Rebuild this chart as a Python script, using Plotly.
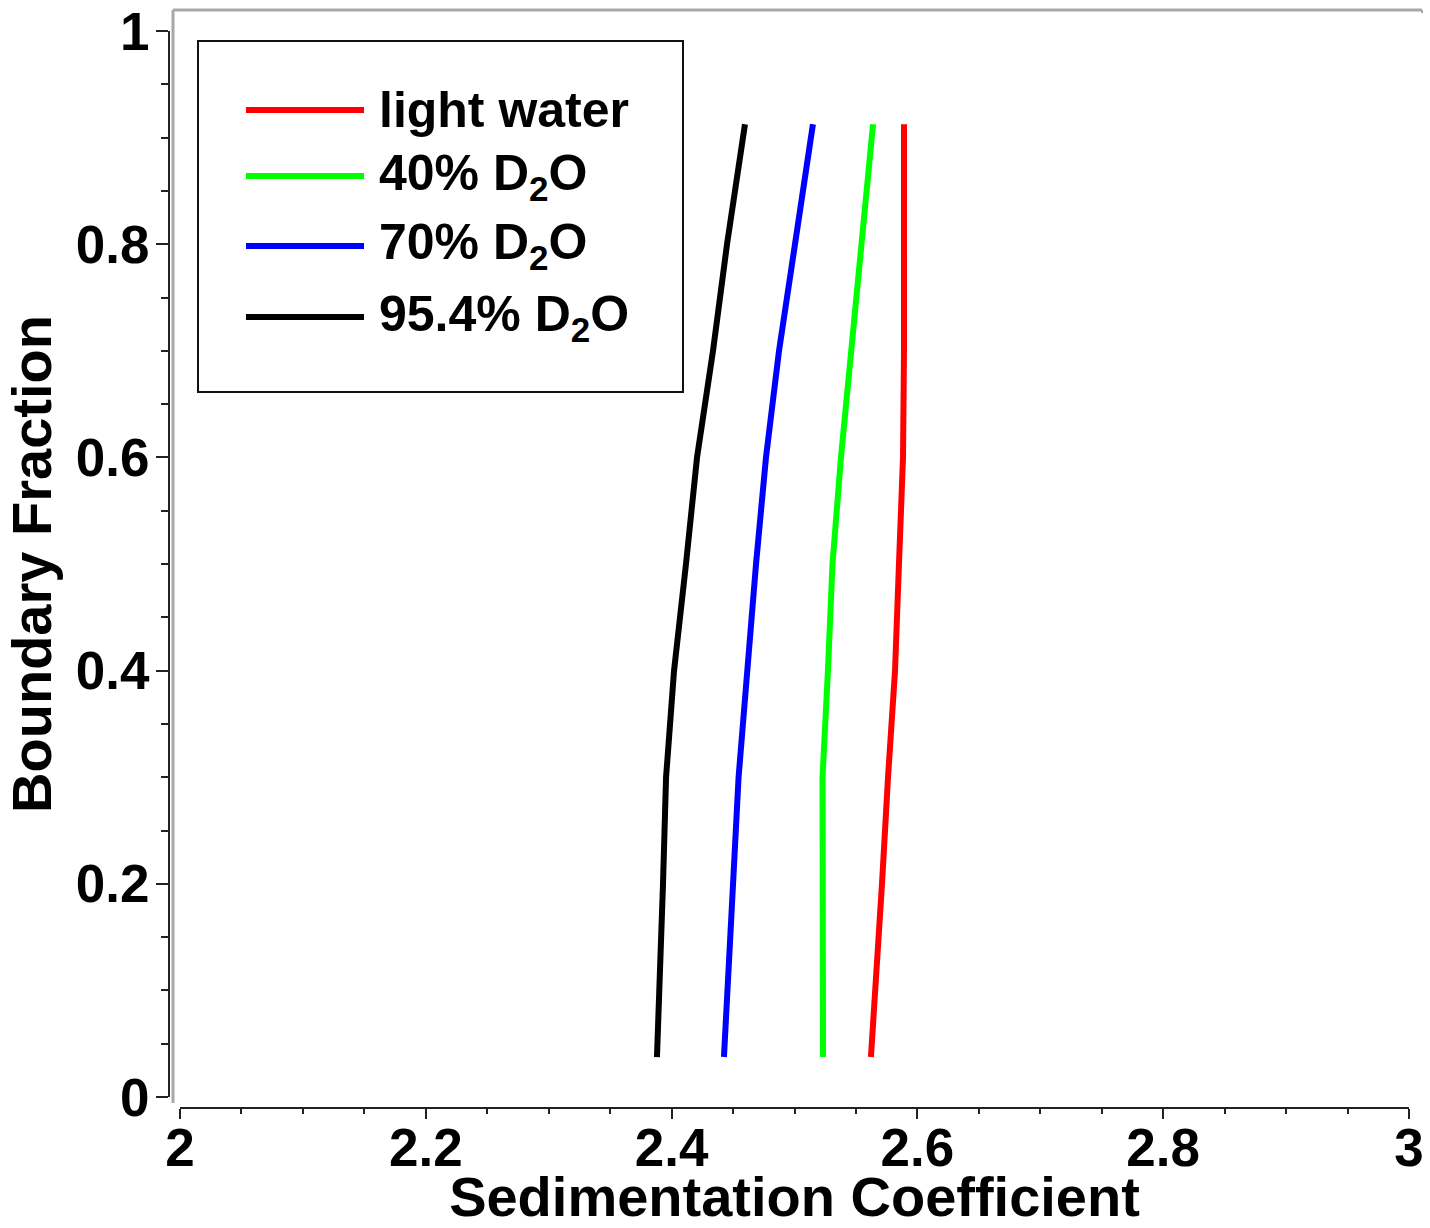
import plotly.graph_objects as go

# Boundary fractions shared by all four distributions
boundary_fraction = [0.0375, 0.1, 0.2, 0.3, 0.4, 0.5, 0.6, 0.7, 0.8, 0.9125]

# Sedimentation coefficients at each boundary fraction
s_light_water = [2.5622, 2.5659, 2.5712, 2.5761, 2.5818, 2.5850, 2.5883, 2.5891, 2.5891, 2.5891]
s_d2o_40 = [2.5232, 2.5232, 2.5228, 2.5228, 2.5272, 2.5309, 2.5378, 2.5460, 2.5541, 2.5639]
s_d2o_70 = [2.4426, 2.4451, 2.4500, 2.4545, 2.4614, 2.4687, 2.4768, 2.4874, 2.5004, 2.5150]
s_d2o_954 = [2.3881, 2.3902, 2.3930, 2.3955, 2.4020, 2.4117, 2.4207, 2.4337, 2.4451, 2.4597]

series_names = ["light water", "40% D<sub>2</sub>O", "70% D<sub>2</sub>O", "95.4% D<sub>2</sub>O"]
series_values = [s_light_water, s_d2o_40, s_d2o_70, s_d2o_954]
series_colors = ["#ff0000", "#00ff00", "#0000ff", "#000000"]

W, H = 1430, 1228
ML, MR, MT, MB = 169, 21, 31, 120
PW, PH = W - ML - MR, H - MT - MB
FONT = "Liberation Sans, Arial, sans-serif"
AX = "#222222"


def px_x(p):
    return (p - ML) / PW


def px_y(p):
    return (H - MB - p) / PH


fig = go.Figure()
for name, xs, col in zip(series_names, series_values, series_colors):
    fig.add_trace(go.Scatter(
        x=xs, y=boundary_fraction, mode="lines", name=name,
        line=dict(color=col, width=6), showlegend=False,
    ))

shapes = []
annotations = []

# Light grey frame along the top and left edges
shapes.append(dict(type="line", xref="paper", yref="paper",
                   x0=px_x(173), x1=px_x(1422), y0=px_y(10), y1=px_y(10),
                   line=dict(color="#a8a8a8", width=3)))
shapes.append(dict(type="line", xref="paper", yref="paper",
                   x0=px_x(173), x1=px_x(173), y0=px_y(10), y1=px_y(1103),
                   line=dict(color="#a8a8a8", width=3)))
shapes.append(dict(type="line", xref="paper", yref="paper",
                   x0=px_x(1422), x1=px_x(1422), y0=px_y(10), y1=px_y(13),
                   line=dict(color="#a8a8a8", width=2)))

# Legend box with line samples
shapes.append(dict(type="rect", xref="paper", yref="paper",
                   x0=px_x(198), x1=px_x(683), y0=px_y(41), y1=px_y(392),
                   line=dict(color="#111111", width=2), fillcolor="white", layer="below"))
legend_rows = [110, 176, 246, 317]
for name, col, row in zip(series_names, series_colors, legend_rows):
    shapes.append(dict(type="line", xref="paper", yref="paper",
                       x0=px_x(246), x1=px_x(364), y0=px_y(row), y1=px_y(row),
                       line=dict(color=col, width=6)))
    annotations.append(dict(xref="paper", yref="paper", x=px_x(377), y=px_y(row),
                            text=name, showarrow=False, xanchor="left", yanchor="middle",
                            font=dict(family=FONT, size=50, color="black", weight="bold")))

fig.update_layout(
    width=W, height=H,
    margin=dict(l=ML, r=MR, t=MT, b=MB, pad=0),
    paper_bgcolor="white", plot_bgcolor="white",
    shapes=shapes, annotations=annotations,
    showlegend=False,
    xaxis=dict(
        range=[2, 3], domain=[11 / PW, 1], anchor="free", position=0,
        showgrid=False, zeroline=False, showline=True, linecolor=AX, linewidth=2,
        ticks="outside", ticklen=10, tickwidth=2, tickcolor=AX,
        tick0=2, dtick=0.2,
        minor=dict(ticks="outside", ticklen=5, tickwidth=2, tickcolor=AX, dtick=0.05, showgrid=False),
        tickfont=dict(family=FONT, size=53, color="black", weight="bold"),
        ticklabelstandoff=-17,
        title=dict(text="Sedimentation Coefficient", standoff=23,
                   font=dict(family=FONT, size=56, color="black", weight="bold")),
        automargin=False,
    ),
    yaxis=dict(
        range=[0, 1], domain=[11 / PH, 1], anchor="free", position=0,
        showgrid=False, zeroline=False, showline=True, linecolor=AX, linewidth=2,
        ticks="outside", ticklen=12, tickwidth=2, tickcolor=AX,
        tick0=0, dtick=0.2,
        minor=dict(ticks="outside", ticklen=7, tickwidth=2, tickcolor=AX, dtick=0.05, showgrid=False),
        tickfont=dict(family=FONT, size=53, color="black", weight="bold"),
        ticklabelstandoff=-4,
        title=dict(text="Boundary Fraction", standoff=10,
                   font=dict(family=FONT, size=56, color="black", weight="bold")),
        automargin=False,
    ),
)

fig.write_html("out.html")
